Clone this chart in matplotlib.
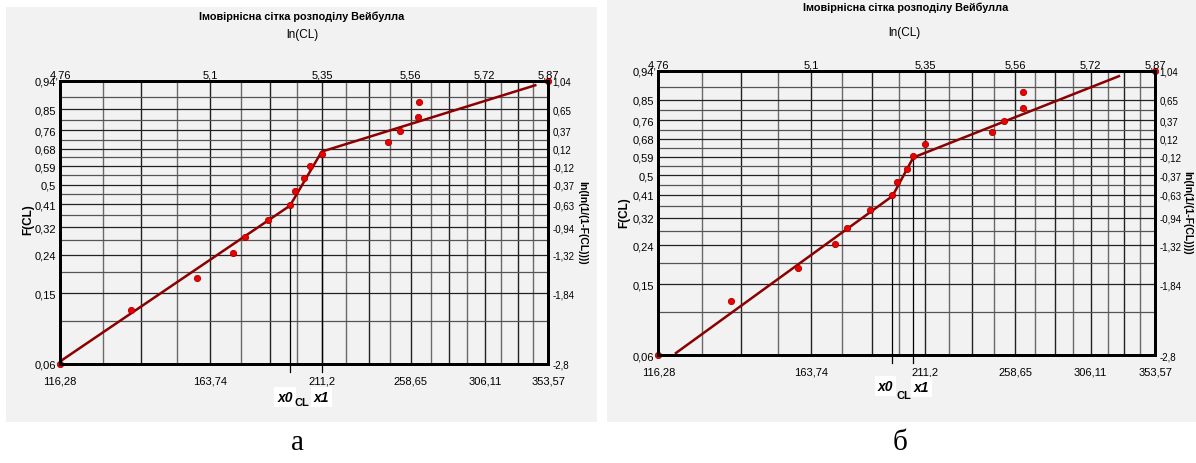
import numpy as np
import matplotlib
matplotlib.use('Agg')
import matplotlib.pyplot as plt
from matplotlib.patches import Rectangle
from matplotlib.ticker import NullLocator
from matplotlib import font_manager

# Data (same 16 points in both panels)
cl = [116.28, 136.7, 159.0, 172.6, 177.4, 186.9, 196.4, 198.5, 202.8, 205.6,
      211.1, 245.5, 252.4, 263.0, 263.3, 353.57]
f_cl = [0.06, 0.12, 0.18, 0.24, 0.29, 0.35, 0.41, 0.47, 0.53, 0.59,
        0.65, 0.71, 0.76, 0.82, 0.88, 0.94]

# piecewise fitted lines
fit_a_cl = [116.28, 196.4, 211.1, 344.4]
fit_a_f = [0.062, 0.407, 0.661, 0.930]
fit_b_cl = [120.7, 196.4, 205.8, 327.0]
fit_b_f = [0.061, 0.407, 0.584, 0.928]

bottom_labels = ['116,28', '163,74', '211,2', '258,65', '306,11', '353,57']
top_labels = ['4,76', '5,1', '5,35', '5,56', '5,72', '5,87']
left_labels = ['0,06', '0,15', '0,24', '0,32', '0,41', '0,5', '0,59', '0,68',
               '0,76', '0,85', '0,94']
right_labels = ['-2,8', '-1,84', '-1,32', '-0,94', '-0,63', '-0,37', '-0,12',
                '0,12', '0,37', '0,65', '1,04']
cl_min, cl_max = 116.28, 353.57
f_min, f_max = 0.06, 0.94

names = {f.name for f in font_manager.fontManager.ttflist}
narrow = 'Liberation Sans Narrow' if 'Liberation Sans Narrow' in names else 'Liberation Sans'


def weib(F):
    F = np.clip(np.asarray(F, dtype=float), 1e-6, 1 - 1e-6)
    return np.log(-np.log(1 - F))


def weib_inv(y):
    return 1 - np.exp(-np.exp(np.asarray(y, dtype=float)))


grid_cl = np.linspace(cl_min, cl_max, 21)
grid_f = np.linspace(f_min, f_max, 21)

W, H = 1196, 464
fig = plt.figure(figsize=(W / 100, H / 100), dpi=100)
bg = '#f2f2f2'


def frac(x, y, w, h):
    return [x / W, 1 - (y + h) / H, w / W, h / H]


for (x, y, w, h) in [(6, 8, 591, 415), (607, 0, 589, 423)]:
    fig.add_artist(Rectangle((x / W, 1 - (y + h) / H), w / W, h / H,
                             transform=fig.transFigure, facecolor=bg,
                             edgecolor='none', zorder=0))

panels = [
    dict(rect=(60, 81.7, 488, 283.3), fit=(fit_a_cl, fit_a_f), title=(302, 17),
         sub=(302, 35), letter=(297, 443), lab='а',
         off=dict(x0=(-5, -33), cl=(12, -38), x1=(0, -33)),
         fl=(28, 220), fr=(582, 223)),
    dict(rect=(658.3, 71.7, 496.7, 284.3), fit=(fit_b_cl, fit_b_f), title=(906, 8),
         sub=(904, 33), letter=(900, 443), lab='б',
         off=dict(x0=(-7, -31), cl=(11, -40), x1=(8, -32)),
         fl=(624, 213), fr=(1187, 213)),
]

for p in panels:
    ax = fig.add_axes(frac(*p['rect']))
    ax.set_facecolor(bg)
    ax.set_xscale('log')
    ax.set_yscale('function', functions=(weib, weib_inv))
    ax.set_xlim(cl_min, cl_max)
    ax.set_ylim(f_min, f_max)

    for i, g in enumerate(grid_cl[1:-1]):
        ax.axvline(g, color='#222222' if i % 2 else '#6a6a6a', lw=1.0, zorder=1)
    for i, g in enumerate(grid_f[1:-1]):
        ax.axhline(g, color='#222222' if i % 2 else '#555555', lw=0.9, zorder=1)

    fx, ff = p['fit']
    ax.plot(fx, ff, color='#8b0000', lw=1.8, zorder=3, solid_capstyle='butt')
    # knee markers x0, x1 dropping below the frame
    for k in (1, 2):
        ax.plot([fx[k], fx[k]], [ff[k], 0.054], color='black', lw=0.9,
                zorder=2, clip_on=False)
    ax.plot(cl, f_cl, linestyle='none', marker='o', ms=4.5, mfc='#ee0000',
            mec='#aa0000', mew=0.6, zorder=4, clip_on=False)

    xt = [cl_min + (cl_max - cl_min) * k / 5 for k in range(6)]
    ax.set_xticks(xt, bottom_labels)
    yt = grid_f[::2]
    ax.set_yticks(yt, left_labels)
    ax.xaxis.set_minor_locator(NullLocator())
    ax.yaxis.set_minor_locator(NullLocator())
    ax.tick_params(which='both', length=0, labelsize=8)
    ax.tick_params(axis='x', pad=8)
    ax.tick_params(axis='y', pad=3)
    for t in ax.get_xticklabels() + ax.get_yticklabels():
        t.set_fontfamily(narrow)

    top = ax.twiny()
    top.set_xscale('log')
    top.set_xlim(cl_min, cl_max)
    top.set_xticks(xt, top_labels)
    top.xaxis.set_minor_locator(NullLocator())
    top.tick_params(which='both', length=0, labelsize=8, pad=1)

    right = ax.twinx()
    right.set_yscale('function', functions=(weib, weib_inv))
    right.set_ylim(f_min, f_max)
    right.set_yticks(yt, right_labels)
    right.yaxis.set_minor_locator(NullLocator())
    right.tick_params(which='both', length=0, labelsize=7, pad=3)
    for t in top.get_xticklabels() + right.get_yticklabels():
        t.set_fontfamily(narrow)

    for a in (ax, top, right):
        for s in a.spines.values():
            s.set_linewidth(2.0)
            s.set_color('black')

    for key, txt, size, style in [('x0', 'x0', 10, 'italic'), ('cl', 'CL', 8, 'normal'),
                                  ('x1', 'x1', 10, 'italic')]:
        xk = fx[2] if key == 'x1' else fx[1]
        dx, dy = p['off'][key]
        box = dict(facecolor='white', edgecolor='none', pad=2) if key != 'cl' else None
        ax.annotate(txt, xy=(xk, 0), xycoords=('data', 'axes fraction'),
                    xytext=(dx * 0.72, dy * 0.72), textcoords='offset points',
                    ha='center', va='center', fontsize=size, fontweight='bold',
                    fontstyle=style, family=narrow, bbox=box, annotation_clip=False)

    tx, ty = p['title']
    fig.text(tx / W, 1 - ty / H, 'Імовірнісна сітка розподілу Вейбулла',
             ha='center', va='center', fontsize=7.8, fontweight='bold', family=narrow)
    sx, sy = p['sub']
    fig.text(sx / W, 1 - sy / H, 'ln(CL)', ha='center', va='center',
             fontsize=8.5, family=narrow)
    lx, ly = p['fl']
    fig.text(lx / W, 1 - ly / H, 'F(CL)', ha='center', va='center', rotation=90,
             fontsize=8.5, fontweight='bold', family=narrow)
    rx, ry = p['fr']
    fig.text(rx / W, 1 - ry / H, 'ln(ln(1/(1-F(CL))))', ha='center', va='center',
             rotation=270, fontsize=7.5, fontweight='bold', family=narrow)
    px, py = p['letter']
    fig.text(px / W, 1 - py / H, p['lab'], ha='center', va='center',
             fontsize=21, family='Liberation Serif')

fig.savefig('out.png', dpi=100)
